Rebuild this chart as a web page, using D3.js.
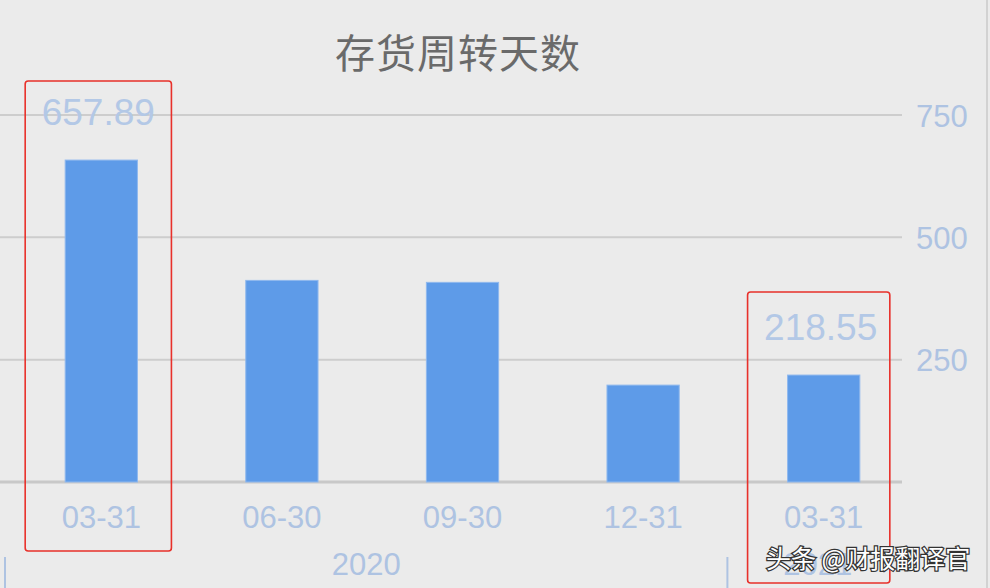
<!DOCTYPE html>
<html>
<head>
<meta charset="utf-8">
<script src="https://cdn.jsdelivr.net/npm/d3@7"></script>
<style>
  html, body { margin: 0; padding: 0; background: #ebebeb; }
  svg { display: block; }
</style>
</head>
<body>
<svg id="chart" width="990" height="588"></svg>
<script>
const title = "存货周转天数";
const categories = ["03-31", "06-30", "09-30", "12-31", "03-31"];
const values = [657.89, 412, 408, 198, 218.55];
const shownLabels = [0, 4];
const yTicks = [250, 500, 750];
const years = [
  { label: "2020", from: 0, to: 3 },
  { label: "2021", from: 4, to: 4 }
];
const highlights = [0, 4];
const watermark = "头条 @财报翻译官";

const W = 990, H = 588;
const svg = d3.select("#chart");
svg.append("rect").attr("width", W).attr("height", H).attr("fill", "#ebebeb");

const idx = categories.map((d, i) => i);
const x = d3.scaleBand().domain(idx).range([11, 914]).paddingInner(0.6).paddingOuter(0.3);
const y = d3.scaleLinear().domain([0, 750]).range([482, 115]);
const labelColor = "#aec3e2";

// gridlines
svg.append("g").selectAll("line").data(yTicks).join("line")
  .attr("x1", 0).attr("x2", 902)
  .attr("y1", d => y(d)).attr("y2", d => y(d))
  .attr("stroke", "#cdcdcd").attr("stroke-width", 2);
// baseline
svg.append("line").attr("x1", 0).attr("x2", 902).attr("y1", y(0)).attr("y2", y(0))
  .attr("stroke", "#c8c8c8").attr("stroke-width", 3);

// right axis labels
const yAxis = d3.axisRight(y).tickValues(yTicks).tickSize(0).tickPadding(0);
const ga = svg.append("g").attr("transform", "translate(916,0)").call(yAxis);
ga.select(".domain").remove();
ga.selectAll("text").attr("fill", labelColor).attr("font-family", "Liberation Sans, Arial, sans-serif")
  .attr("font-size", 31).attr("dy", "0.36em");

// bars
svg.append("g").selectAll("rect").data(values).join("rect")
  .attr("x", (d, i) => x(i)).attr("width", x.bandwidth())
  .attr("y", d => y(d)).attr("height", d => y(0) - y(d))
  .attr("fill", "#5e9be8").attr("stroke", "#8fb8ee").attr("stroke-width", 1);

// value labels
svg.append("g").selectAll("text").data(shownLabels).join("text")
  .attr("x", i => x(i) + x.bandwidth() / 2 - 3)
  .attr("y", i => y(values[i]) - 35)
  .attr("text-anchor", "middle")
  .attr("fill", "#b3c8e6")
  .attr("font-family", "Liberation Sans, Arial, sans-serif")
  .attr("font-size", 37)
  .text(i => values[i].toFixed(2));

// x category labels
const xAxis = d3.axisBottom(x).tickFormat(i => categories[i]).tickSize(0).tickPadding(0);
const gx = svg.append("g").attr("transform", "translate(0,517)").call(xAxis);
gx.select(".domain").remove();
gx.selectAll("text").attr("fill", labelColor).attr("font-family", "Liberation Sans, Arial, sans-serif")
  .attr("font-size", 31).attr("dy", "0.36em");

// year labels + separators
const step = x.step();
years.forEach(yr => {
  const cx = (x(yr.from) + x(yr.to) + x.bandwidth()) / 2 - 6;
  svg.append("text").attr("x", cx).attr("y", 575).attr("text-anchor", "middle")
    .attr("fill", labelColor).attr("font-family", "Liberation Sans, Arial, sans-serif")
    .attr("font-size", 31).text(yr.label);
  const sx = x(yr.from) - (step - x.bandwidth()) / 2 - 6;
  svg.append("line").attr("x1", Math.max(sx, 5)).attr("x2", Math.max(sx, 5))
    .attr("y1", 557).attr("y2", 588).attr("stroke", labelColor).attr("stroke-width", 2);
});

// right border
svg.append("line").attr("x1", 987).attr("x2", 987).attr("y1", 0).attr("y2", H)
  .attr("stroke", "#d2d2d2").attr("stroke-width", 2);

// title
svg.append("text").attr("x", 458).attr("y", 68).attr("text-anchor", "middle")
  .attr("fill", "#6a6a6a").attr("font-family", "Noto Sans CJK SC, sans-serif")
  .attr("font-size", 40).attr("letter-spacing", 1).text(title);

// highlight boxes (annotation around highlighted bars)
const boxBottom = [551, 583];
svg.append("g").selectAll("rect").data(highlights).join("rect")
  .attr("x", i => x(i) - 40)
  .attr("width", i => x.bandwidth() + 40 + (i === 0 ? 34 : 30))
  .attr("y", i => y(values[i]) - (i === 0 ? 79 : 83))
  .attr("height", (i, k) => boxBottom[k] - (y(values[i]) - (i === 0 ? 79 : 83)))
  .attr("rx", 3)
  .attr("fill", "none").attr("stroke", "#e8302a").attr("stroke-width", 1.6);

// watermark
svg.append("text").attr("x", 766).attr("y", 568)
  .attr("fill", "#fff").attr("stroke", "#333").attr("stroke-width", 2.5)
  .attr("paint-order", "stroke").attr("font-family", "Noto Sans CJK SC, sans-serif")
  .attr("font-size", 25).text(watermark);
</script>
</body>
</html>
